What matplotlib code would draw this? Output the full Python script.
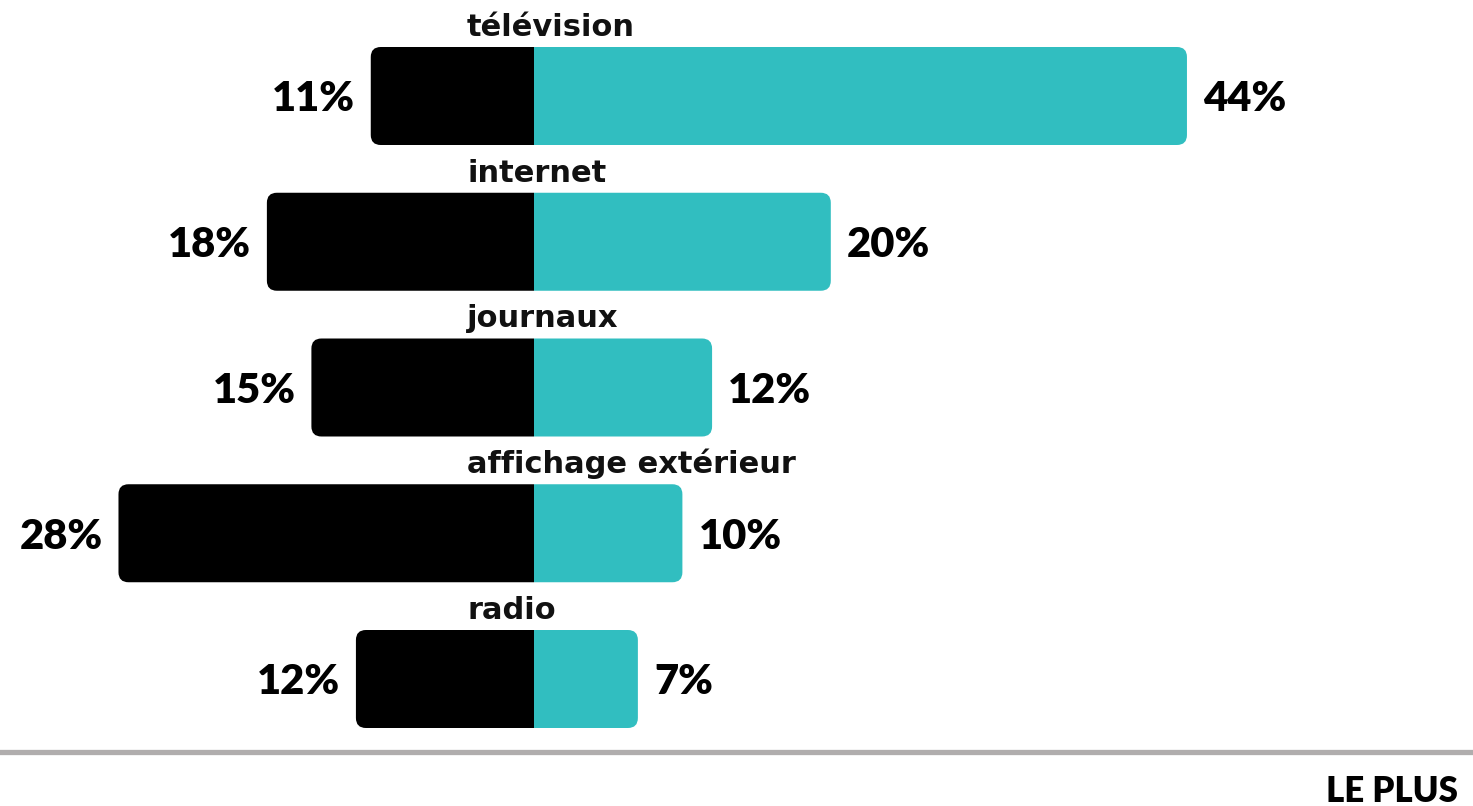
import numpy as np
import matplotlib.pyplot as plt
from matplotlib.patches import PathPatch
from matplotlib.path import Path

categories = ['télévision', 'internet', 'journaux', 'affichage extérieur', 'radio']
left_vals = [11, 18, 15, 28, 12]     # black, to the left
right_vals = [44, 20, 12, 10, 7]     # teal, to the right
footer = 'LE PLUS'

BLACK = '#000000'
TEAL = '#31bec0'

W, H, DPI = 1473, 806, 100
fig = plt.figure(figsize=(W / DPI, H / DPI), dpi=DPI)
ax = fig.add_axes([0, 0, 1, 1])

# scale: pixels per percent / per row
px_x = 14.84
px_y = 145.75
x0 = 534
y0 = 96
ax.set_xlim(-x0 / px_x, (W - x0) / px_x)
ax.set_ylim((H - y0) / px_y, -y0 / px_y)
ax.axis('off')

bar_h = 98 / px_y
rx = 10 / px_x
ry = 10 / px_y
gap = 16 / px_x


def half_bar(end, top, h, color):
    # bar from 0 to `end`, only the outer end rounded
    s = np.sign(end)
    bot = top + h
    ex = end - s * rx
    verts = [(0, top), (ex, top), (end, top), (end, top + ry),
             (end, bot - ry), (end, bot), (ex, bot), (0, bot), (0, top)]
    codes = [Path.MOVETO, Path.LINETO, Path.CURVE3, Path.CURVE3,
             Path.LINETO, Path.CURVE3, Path.CURVE3, Path.LINETO, Path.CLOSEPOLY]
    ax.add_patch(PathPatch(Path(verts, codes), fc=color, ec='none'))


for i, (cat, lv, rv) in enumerate(zip(categories, left_vals, right_vals)):
    top = i - bar_h / 2
    half_bar(-lv, top, bar_h, BLACK)
    half_bar(rv, top, bar_h, TEAL)

    ax.text(-lv - gap, i, f'{lv}%', ha='right', va='center_baseline',
            fontsize=30, fontweight='heavy', family='Lato', color='black')
    ax.text(rv + gap, i, f'{rv}%', ha='left', va='center_baseline',
            fontsize=30, fontweight='heavy', family='Lato', color='black')

    ax.text(-67 / px_x, top - 11 / px_y, cat, ha='left', va='baseline',
            fontsize=22, fontweight='bold', family='DejaVu Sans', color='#111111')

# footer rule and label
fig.add_artist(plt.Line2D([0, 1], [1 - 751.5 / H, 1 - 751.5 / H],
                          color='#b0adad', lw=3.8, transform=fig.transFigure))
fig.text(1 - 15 / W, 1 - 802 / H, footer, ha='right', va='baseline',
         fontsize=25, fontweight='heavy', family='Lato', color='black')

fig.savefig('out.png', dpi=DPI)
